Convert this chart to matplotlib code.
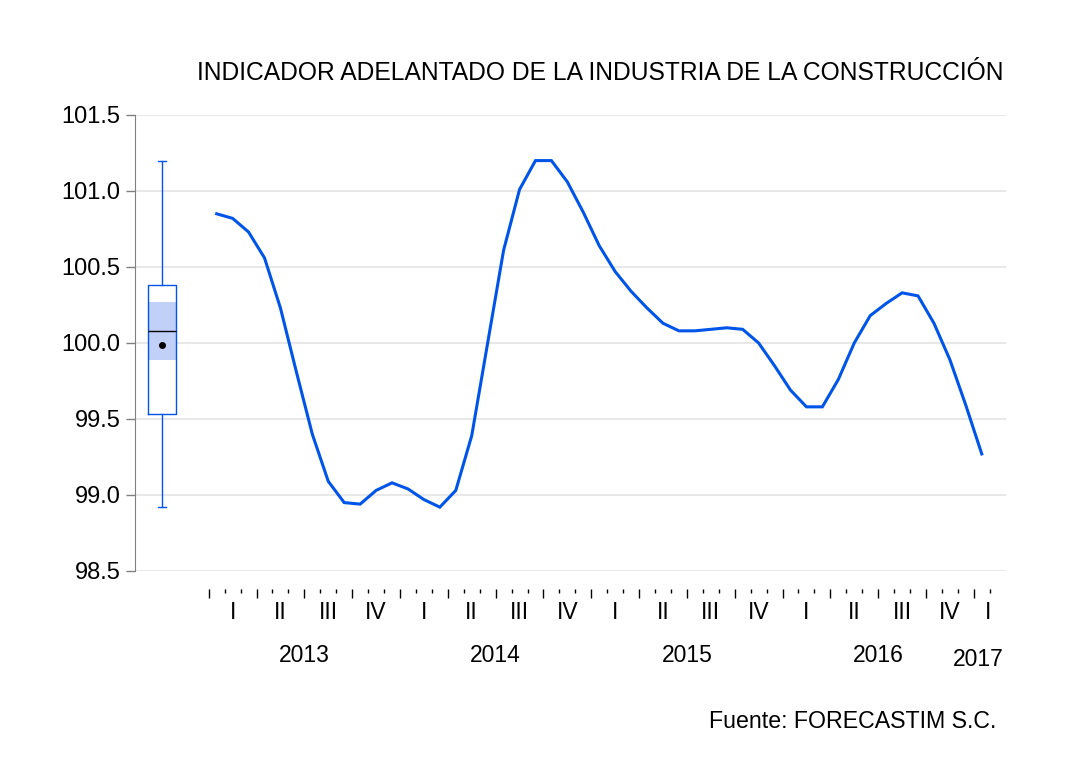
import numpy as np
import matplotlib
matplotlib.use("Agg")
import matplotlib.pyplot as plt

plt.rcParams["font.family"] = ["Liberation Sans", "DejaVu Sans"]

# monthly index, Jan 2013 .. Jan 2017
values = [
    100.85, 100.82, 100.73, 100.56, 100.23, 99.81, 99.40, 99.09, 98.95, 98.94,
    99.03, 99.08, 99.04, 98.97, 98.92, 99.03, 99.39, 100.00, 100.61, 101.01,
    101.20, 101.20, 101.06, 100.86, 100.64, 100.47, 100.34, 100.23, 100.13, 100.08,
    100.08, 100.09, 100.10, 100.09, 100.00, 99.85, 99.69, 99.58, 99.58, 99.76,
    100.00, 100.18, 100.26, 100.33, 100.31, 100.13, 99.89, 99.59, 99.27,
]
years = ["2013", "2014", "2015", "2016", "2017"]
quarters = ["I", "II", "III", "IV"]

# summary shown as box plot on the left
box_whislo = 98.92
box_q1 = 99.53
box_med = 100.08
box_mean = 99.99
box_q3 = 100.38
box_whishi = 101.20
box_cilo = 99.89
box_cihi = 100.27

BLUE = "#0055e8"

fig = plt.figure(figsize=(10.65, 7.8), dpi=100)
ax = fig.add_axes([135 / 1065, 1 - 571 / 780, (1006 - 135) / 1065, (571 - 115) / 780])

x = np.arange(len(values))
ax.plot(x, values, color=BLUE, lw=2.2, solid_joinstyle="miter")

# box plot
bx = -3.43
stats = [dict(med=box_med, q1=box_q1, q3=box_q3, whislo=box_whislo,
              whishi=box_whishi, mean=box_mean, fliers=[])]
ax.bar(bx, box_cihi - box_cilo, bottom=box_cilo, width=1.76,
       color="#c0d0f6", lw=0, zorder=2)
ax.bxp(stats, positions=[bx], widths=1.76, capwidths=0.5, showmeans=True,
       manage_ticks=False,
       boxprops=dict(color=BLUE, lw=1.0),
       whiskerprops=dict(color=BLUE, lw=1.0),
       capprops=dict(color=BLUE, lw=1.0),
       medianprops=dict(color="black", lw=1.0),
       meanprops=dict(marker="o", markerfacecolor="black",
                      markeredgecolor="black", markersize=4))

ax.set_xlim(-5.125, 49.52)
ax.set_ylim(98.5, 101.5)
ax.set_yticks(np.arange(98.5, 101.51, 0.5))
ax.set_yticklabels([f"{v:.1f}" for v in np.arange(98.5, 101.51, 0.5)])
ax.yaxis.grid(True, color="#e8e8e8", lw=1.5)
ax.set_axisbelow(True)

for s in ["top", "right"]:
    ax.spines[s].set_visible(False)
ax.spines["left"].set_color("#808080")
ax.spines["bottom"].set_position(("outward", 13))
ax.spines["bottom"].set_visible(False)

n = len(values)
major = np.arange(-0.5, n, 3)
minor = [m for m in np.arange(-0.5, n + 0.5, 1) if m not in major]
ax.set_xticks(major)
ax.set_xticks(minor, minor=True)
ax.set_xticklabels([])
ax.tick_params(axis="x", which="major", length=6.5, width=1, color="black")
ax.tick_params(axis="x", which="minor", length=3.2, width=1, color="black")
ax.tick_params(axis="y", length=6.5, width=1, color="#808080", pad=4,
               labelsize=17)

tr = ax.get_xaxis_transform()
for q in range(16):
    ax.text(3 * q + 1, -0.092, quarters[q % 4], transform=tr,
            ha="center", va="center", fontsize=16.5)
ax.text(48.4, -0.092, quarters[0], transform=tr, ha="center", va="center",
        fontsize=16.5)
for i, yr in enumerate(years[:-1]):
    ax.text(12 * i + 5.5, -0.185, yr, transform=tr, ha="center", va="center",
            fontsize=16.5)
ax.text(47.8, -0.195, years[-1], transform=tr, ha="center", va="center",
        fontsize=16.5)

fig.text(600 / 1065, 1 - 73 / 780,
         "INDICADOR ADELANTADO DE LA INDUSTRIA DE LA CONSTRUCCIÓN",
         ha="center", va="center", fontsize=17.7)
fig.text(996 / 1065, 1 - 721 / 780, "Fuente: FORECASTIM S.C.",
         ha="right", va="center", fontsize=16.7)

fig.savefig("out.png", dpi=100)
